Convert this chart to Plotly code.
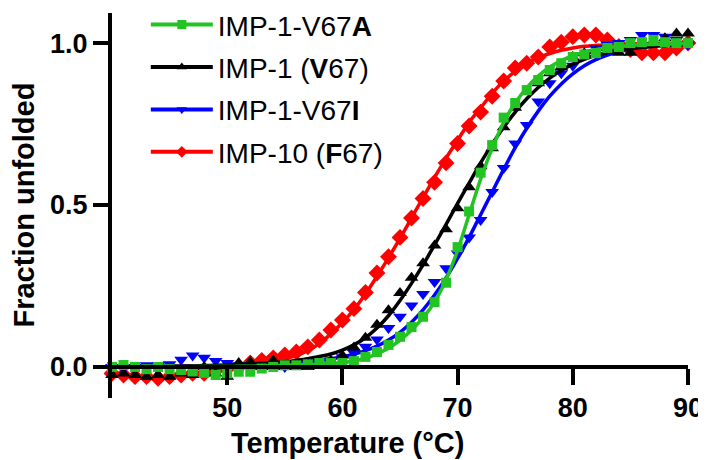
import plotly.graph_objects as go

temps = [40, 41, 42, 43, 44, 45, 46, 47, 48, 49, 50, 51, 52, 53, 54, 55, 56, 57, 58, 59,
         60, 61, 62, 63, 64, 65, 66, 67, 68, 69, 70, 71, 72, 73, 74, 75, 76, 77, 78, 79,
         80, 81, 82, 83, 84, 85, 86, 87, 88, 89, 90]

# IMP-10 (F67) - red
red_data = [-0.02, -0.025, -0.03, -0.03, -0.035, -0.03, -0.025, -0.02, -0.02, -0.01,
            -0.005, 0.0, 0.012, 0.02, 0.028, 0.037, 0.046, 0.062, 0.083, 0.114,
            0.145, 0.18, 0.23, 0.29, 0.34, 0.40, 0.46, 0.52, 0.57, 0.63,
            0.69, 0.744, 0.787, 0.836, 0.883, 0.923, 0.938, 0.957, 0.988, 1.003,
            1.02, 1.025, 1.025, 1.01, 0.99, 0.98, 0.97, 0.97, 0.97, 0.985, 1.0]
red_fit = [0.0, 0.0, 0.001, 0.001, 0.001, 0.002, 0.002, 0.003, 0.003, 0.004,
           0.005, 0.007, 0.01, 0.013, 0.018, 0.025, 0.035, 0.05, 0.072, 0.102,
           0.137, 0.177, 0.225, 0.28, 0.337, 0.397, 0.46, 0.523, 0.585, 0.645,
           0.70, 0.755, 0.80, 0.845, 0.883, 0.913, 0.937, 0.955, 0.968, 0.978,
           0.985, 0.99, 0.993, 0.995, 0.997, 0.998, 0.998, 0.999, 0.999, 0.999, 1.0]

# IMP-1 (V67) - black
black_data = [-0.025, -0.02, -0.025, -0.03, -0.025, -0.03, -0.02, -0.025, 0.0, -0.02,
              -0.03, 0.012, 0.015, 0.0, 0.02, 0.0, 0.0, 0.0, 0.01, 0.02,
              0.035, 0.06, 0.09, 0.13, 0.175, 0.228, 0.275, 0.32, 0.375, 0.425,
              0.49, 0.555, 0.62, 0.675, 0.74, 0.80, 0.85, 0.876, 0.907, 0.926,
              0.957, 0.969, 0.975, 0.985, 0.97, 0.97, 1.0, 1.005, 1.015, 1.03, 1.03]
black_fit = [0.0, 0.0, 0.001, 0.001, 0.001, 0.002, 0.002, 0.003, 0.004, 0.005,
             0.006, 0.007, 0.009, 0.011, 0.013, 0.016, 0.02, 0.025, 0.032, 0.04,
             0.052, 0.068, 0.09, 0.12, 0.158, 0.205, 0.258, 0.315, 0.377, 0.44,
             0.505, 0.568, 0.63, 0.688, 0.74, 0.787, 0.828, 0.863, 0.892, 0.916,
             0.935, 0.95, 0.962, 0.971, 0.978, 0.983, 0.987, 0.99, 0.993, 0.995, 0.996]

# IMP-1-V67I - blue
blue_data = [0.0, -0.005, 0.0, 0.005, 0.005, 0.008, 0.022, 0.035, 0.028, 0.018,
             0.012, 0.005, 0.0, 0.0, 0.005, 0.0, 0.01, 0.01, 0.015, 0.02,
             0.03, 0.043, 0.062, 0.085, 0.12, 0.155, 0.19, 0.225, 0.262, 0.305,
             0.35, 0.40, 0.454, 0.54, 0.614, 0.69, 0.747, 0.82, 0.876, 0.907,
             0.93, 0.963, 0.985, 0.995, 1.0, 1.01, 1.025, 1.025, 1.02, 1.01, 0.995]
blue_fit = [0.0, 0.0, 0.0, 0.001, 0.001, 0.001, 0.002, 0.002, 0.003, 0.003,
            0.004, 0.005, 0.006, 0.007, 0.009, 0.011, 0.013, 0.016, 0.02, 0.025,
            0.031, 0.039, 0.05, 0.064, 0.083, 0.107, 0.138, 0.176, 0.222, 0.275,
            0.335, 0.40, 0.47, 0.54, 0.61, 0.677, 0.737, 0.79, 0.836, 0.874,
            0.905, 0.93, 0.949, 0.963, 0.974, 0.982, 0.987, 0.991, 0.994, 0.996, 0.997]

# IMP-1-V67A - green
green_data = [0.0, 0.006, 0.0, -0.007, 0.0, -0.007, -0.01, -0.014, -0.018, -0.025,
              -0.02, -0.015, -0.015, -0.005, 0.0, 0.005, 0.005, 0.008, 0.012, 0.012,
              0.012, 0.018, 0.031, 0.046, 0.068, 0.093, 0.123, 0.155, 0.2, 0.26,
              0.37, 0.48, 0.6, 0.685, 0.77, 0.815, 0.855, 0.886, 0.917, 0.938,
              0.957, 0.965, 0.969, 0.985, 0.988, 1.0, 1.003, 1.01, 1.003, 1.0, 1.0]
green_fit = [0.0, 0.0, 0.0, 0.0, 0.0, 0.0, 0.0, 0.001, 0.001, 0.001,
             0.001, 0.002, 0.002, 0.003, 0.004, 0.005, 0.006, 0.007, 0.008, 0.01,
             0.013, 0.018, 0.027, 0.04, 0.058, 0.082, 0.113, 0.152, 0.2, 0.27,
             0.36, 0.47, 0.58, 0.675, 0.755, 0.815, 0.862, 0.898, 0.926, 0.946,
             0.961, 0.972, 0.98, 0.986, 0.99, 0.993, 0.995, 0.996, 0.997, 0.998, 0.998]

legend_names = ["IMP-1-V67<b>A</b>", "IMP-1 (<b>V</b>67)", "IMP-1-V67<b>I</b>", "IMP-10 (<b>F</b>67)"]
x_ticks = [50, 60, 70, 80, 90]
y_ticks = [0.0, 0.5, 1.0]
y_ticklabels = ["0.0", "0.5", "1.0"]
x_title = "Temperature (°C)"
y_title = "Fraction unfolded"

GREEN = "#22c322"
BLACK = "#000000"
BLUE = "#0000ff"
RED = "#ff0000"
FONT = "Liberation Sans, Arial, sans-serif"

series = {
    "green": (green_data, green_fit, GREEN, "square", 10, legend_names[0]),
    "black": (black_data, black_fit, BLACK, "triangle-up", 12, legend_names[1]),
    "blue": (blue_data, blue_fit, BLUE, "triangle-down", 12, legend_names[2]),
    "red": (red_data, red_fit, RED, "diamond", 13, legend_names[3]),
}

fig = go.Figure()

# legend-only entries (legend order)
for key in ["green", "black", "blue", "red"]:
    d, f, c, sym, sz, name = series[key]
    fig.add_trace(go.Scatter(
        x=[None], y=[None], mode="lines+markers", name=name,
        line=dict(color=c, width=4),
        marker=dict(symbol=sym, size=9, color=c),
        legendgroup=key, showlegend=True, hoverinfo="skip"))

# drawn data (draw order)
for key in ["red", "blue", "black", "green"]:
    d, f, c, sym, sz, name = series[key]
    fig.add_trace(go.Scatter(
        x=temps, y=f, mode="lines", line=dict(color=c, width=3.5, shape="spline"),
        showlegend=False, legendgroup=key, hoverinfo="skip"))
    fig.add_trace(go.Scatter(
        x=temps, y=d, mode="markers", cliponaxis=False,
        marker=dict(symbol=sym, size=sz, color=c, line=dict(width=0)),
        showlegend=False, legendgroup=key))

y_min, y_max = -0.096, 1.093
x_pos = (0 - y_min) / (y_max - y_min)

# the page places the figure 8px in from the top-left corner
fig.update_layout(
    width=698, height=452,
    margin=dict(l=104, r=18, t=5, b=62, autoexpand=False),
    paper_bgcolor="white", plot_bgcolor="white",
    font=dict(family=FONT, color="black"),
    showlegend=True,
    legend=dict(
        x=0.0587, y=1.034, xanchor="left", yanchor="top",
        font=dict(family=FONT, size=28, color="black"),
        bgcolor="rgba(0,0,0,0)", tracegroupgap=3, itemwidth=62,
    ),
    xaxis=dict(
        range=[40, 90], anchor="free", position=x_pos, automargin=False,
        showgrid=False, zeroline=False,
        showline=True, linecolor="black", linewidth=4,
        ticks="outside", ticklen=16, tickwidth=4, tickcolor="black",
        tickvals=x_ticks,
        tickfont=dict(family=FONT, size=27, color="black", weight="bold"),
    ),
    yaxis=dict(
        range=[y_min, y_max], automargin=False,
        showgrid=False, zeroline=False,
        showline=True, linecolor="black", linewidth=4,
        ticks="outside", ticklen=15, tickwidth=4, tickcolor="black",
        tickvals=y_ticks, ticktext=y_ticklabels,
        tickfont=dict(family=FONT, size=27, color="black", weight="bold"),
    ),
    annotations=[
        dict(text=x_title, xref="paper", yref="paper", x=0.408, y=-0.118,
             xanchor="center", yanchor="middle", showarrow=False,
             font=dict(family=FONT, size=29, color="black", weight="bold")),
        dict(text=y_title, xref="paper", yref="paper", x=-0.1545, y=0.5,
             xanchor="center", yanchor="middle", showarrow=False, textangle=-90,
             font=dict(family=FONT, size=29, color="black", weight="bold")),
    ],
)

fig.write_html("out.html")
